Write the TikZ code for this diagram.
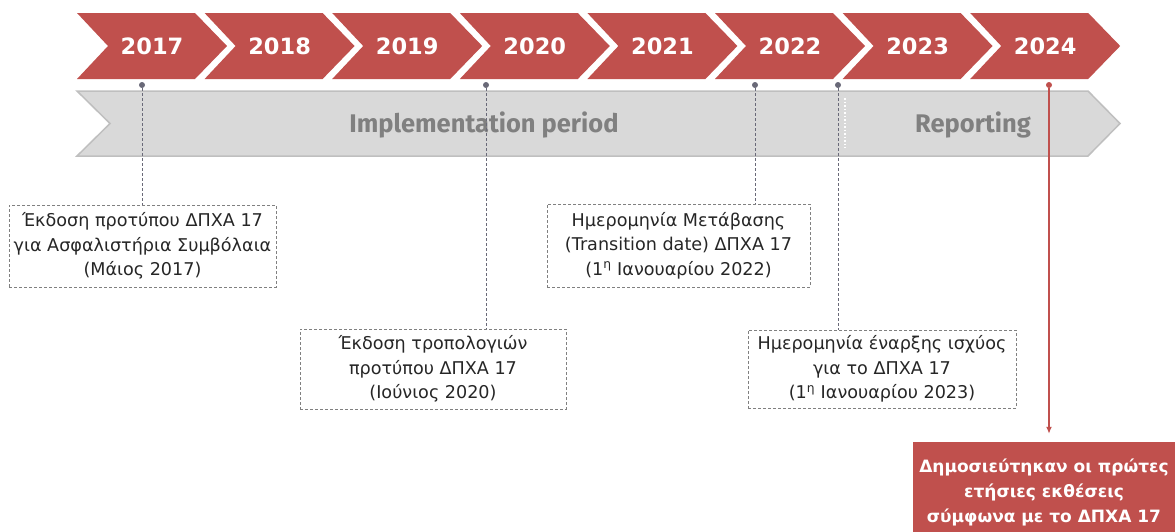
\documentclass[tikz,border=0pt]{standalone}
\usepackage{fontspec}
\setmainfont{DejaVu Sans}
\newfontfamily\headfont{Fira Sans}
\usetikzlibrary{arrows.meta}

\definecolor{eyred}{RGB}{192,80,77}
\definecolor{bandgray}{RGB}{217,217,217}
\definecolor{bandedge}{RGB}{191,191,191}
\definecolor{labelgray}{RGB}{128,128,128}
\definecolor{pingray}{RGB}{105,105,120}
\definecolor{notetext}{RGB}{38,38,38}

\begin{document}
\begin{tikzpicture}[x=1pt,y=-1pt,
    yearlabel/.style={text=white,font=\bfseries\fontsize{22.5}{22.5}\selectfont},
    bandlabel/.style={text=labelgray,font=\headfont\bfseries\fontsize{25.5}{25.5}\selectfont},
    pin/.style={circle,fill=pingray,inner sep=0pt,minimum size=6pt},
    leader/.style={pingray,densely dashed,line width=0.8pt},
    notebox/.style={draw=gray,dash pattern=on 3pt off 2pt,line width=0.8pt,align=center,
        text=notetext,inner sep=0pt,font=\fontsize{17.6}{24.5}\selectfont},
    redbox/.style={fill=eyred,align=center,text=white,inner sep=0pt,
        font=\bfseries\fontsize{17}{25}\selectfont}
]
    \useasboundingbox (0,0) rectangle (1175,531);

    % Years
    \foreach \yr [count=\i from 0] in {2017,...,2024} {
        \pgfmathsetmacro\xo{77+127.6*\i}
        \fill[eyred] (\xo,13) -- ++(118,0) -- ++(32,33) -- ++(-32,33) -- ++(-118,0) -- ++(31,-33) -- cycle;
        \node[yearlabel] (y\yr) at (\xo+75,46) {\yr};
    }

    % Periods band
    \draw[bandedge,fill=bandgray,line width=1.5pt]
        (77,91) -- (1088,91) -- (1120,123.5) -- (1088,156) -- (77,156) -- (110,123.5) -- cycle;
    \draw[white,line width=1.5pt,dotted] (845,98) -- (845,148);
    \node[bandlabel] (impl) at (484,125) {Implementation period};
    \node[bandlabel] (rep) at (973,125) {Reporting};

    % Milestones
    \node[pin] (p17) at (142,85) {};
    \node[pin] (p20) at (486,85) {};
    \node[pin] (p22) at (755,85) {};
    \node[pin] (p23) at (838,85) {};
    \node[pin,fill=eyred] (p24) at (1049,85) {};

    \node[notebox,minimum width=267pt,minimum height=82pt] (n17) at (142.5,246)
        {Έκδοση προτύπου ΔΠΧΑ 17\\για Ασφαλιστήρια Συμβόλαια\\(Μάιος 2017)};
    \node[notebox,minimum width=266pt,minimum height=80pt] (n20) at (433,369)
        {Έκδοση τροπολογιών\\προτύπου ΔΠΧΑ 17\\(Ιούνιος 2020)};
    \node[notebox,minimum width=263pt,minimum height=83pt] (n22) at (678.5,245.5)
        {Ημερομηνία Μετάβασης\\(Transition date) ΔΠΧΑ 17\\(1\textsuperscript{η} Ιανουαρίου 2022)};
    \node[notebox,minimum width=268pt,minimum height=78pt] (n23) at (882,369)
        {Ημερομηνία έναρξης ισχύος\\για το ΔΠΧΑ 17\\(1\textsuperscript{η} Ιανουαρίου 2023)};
    % runs off the bottom edge of the page
    \node[redbox,minimum width=262pt,minimum height=100pt] (r24) at (1044,492)
        {Δημοσιεύτηκαν οι πρώτες\\ετήσιες εκθέσεις\\σύμφωνα με το ΔΠΧΑ 17};

    \draw[leader] (p17) -- (p17 |- n17.north);
    \draw[leader] (p20) -- (p20 |- n20.north);
    \draw[leader] (p22) -- (p22 |- n22.north);
    \draw[leader] (p23) -- (p23 |- n23.north);
    \draw[eyred,line width=1.5pt,-{Latex[length=7pt,width=6pt]},shorten >=8pt]
        (p24) -- (p24 |- r24.north);
\end{tikzpicture}
\end{document}
